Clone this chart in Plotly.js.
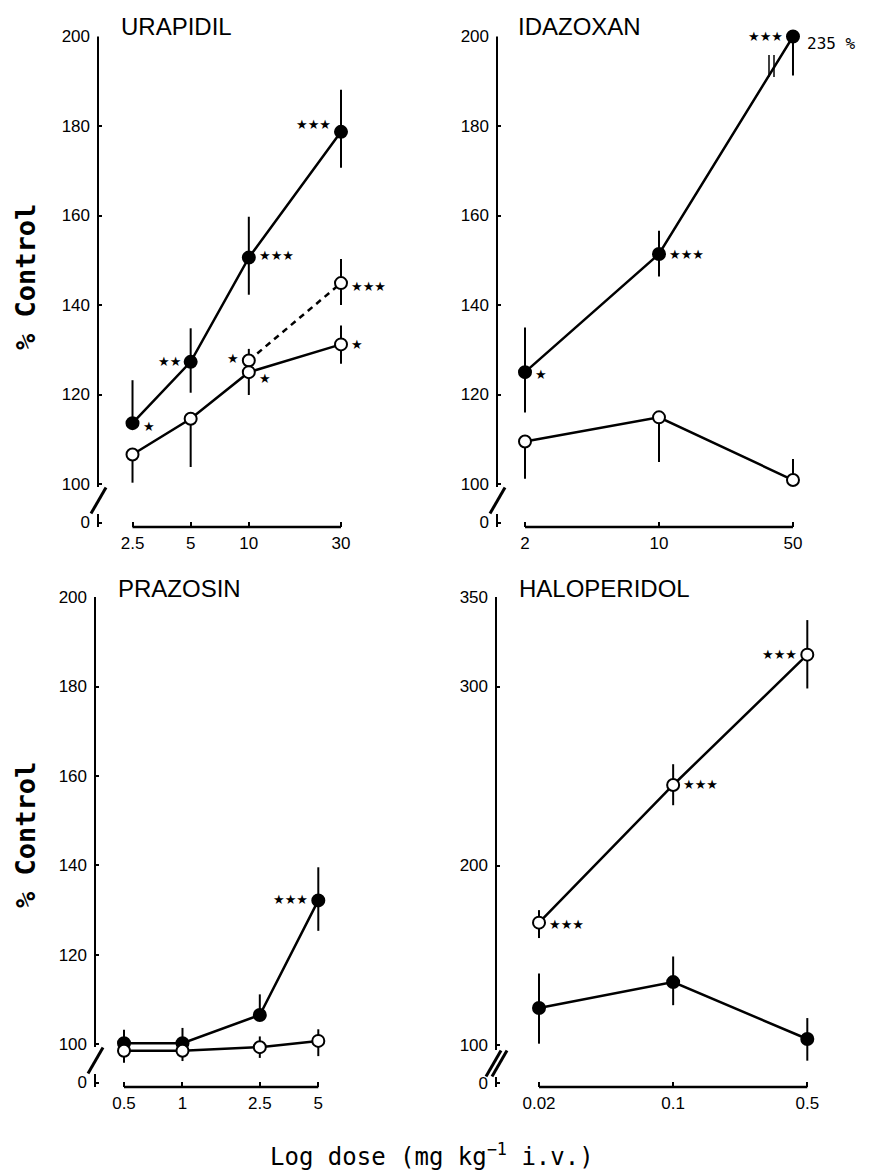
<!DOCTYPE html>
<html><head><meta charset="utf-8">
<script src="https://cdn.plot.ly/plotly-3.0.1.min.js"></script>
<style>html,body{margin:0;padding:0;background:#fff}</style>
</head><body><div id="chart" style="width:871px;height:1171px"></div>
<script>
// ---------------- DATA ----------------
const urapidilDoses = [2.5, 5, 10, 30];
const urapidilDoseLabels = ['2.5', '5', '10', '30'];
const urapidilFilled = [113.6, 127.3, 150.6, 178.7];
const urapidilFilledErrUp = [9.6, 7.5, 9.1, 9.4];
const urapidilFilledErrDown = [0, 6.9, 8.3, 8.0];
const urapidilFilledSig = ['★', '★★', '★★★', '★★★'];
const urapidilOpen = [106.6, 114.6, 125.0, 131.2];
const urapidilOpenErrUp = [0, 0, 0, 4.2];
const urapidilOpenErrDown = [6.3, 10.8, 5.1, 4.3];
const urapidilOpenSig = ['', '', '★', '★'];
const urapidilOpen2Doses = [10, 30];
const urapidilOpen2 = [127.6, 144.9];
const urapidilOpen2ErrUp = [2.6, 5.4];
const urapidilOpen2ErrDown = [0, 4.9];
const urapidilOpen2Sig = ['★', '★★★'];

const idazoxanDoses = [2, 10, 50];
const idazoxanDoseLabels = ['2', '10', '50'];
const idazoxanFilled = [125.0, 151.4, 200];
const idazoxanFilledErrUp = [10, 5.2, 0];
const idazoxanFilledErrDown = [9, 5, 8.7];
const idazoxanFilledSig = ['★', '★★★', '★★★'];
const idazoxanOpen = [109.5, 114.9, 100.9];
const idazoxanOpenErrUp = [0, 0, 4.7];
const idazoxanOpenErrDown = [8.3, 10, 0];
const idazoxanTopLabel = '235 %';

const prazosinDoses = [0.5, 1, 2.5, 5];
const prazosinDoseLabels = ['0.5', '1', '2.5', '5'];
const prazosinFilled = [100.3, 100.3, 106.6, 132.2];
const prazosinFilledErrUp = [3.0, 3.4, 4.6, 7.4];
const prazosinFilledErrDown = [0, 0, 0, 6.8];
const prazosinFilledSig = ['', '', '', '★★★'];
const prazosinOpen = [98.6, 98.6, 99.4, 100.8];
const prazosinOpenErrUp = [0, 0, 2.4, 2.6];
const prazosinOpenErrDown = [2.7, 2.3, 2.4, 3.4];

const haloperidolDoses = [0.02, 0.1, 0.5];
const haloperidolDoseLabels = ['0.02', '0.1', '0.5'];
const haloperidolOpen = [168.1, 245.0, 317.8];
const haloperidolOpenErrUp = [7, 11.6, 19.3];
const haloperidolOpenErrDown = [8.6, 11.3, 18.9];
const haloperidolOpenSig = ['★★★', '★★★', '★★★'];
const haloperidolFilled = [120.4, 134.9, 103.1];
const haloperidolFilledErrUp = [19.3, 14.3, 11.7];
const haloperidolFilledErrDown = [19.9, 12.9, 12.1];

const pctTicks = [100, 120, 140, 160, 180, 200];
const pctTicksHalo = [100, 200, 300, 350];

const panelTitles = ['URAPIDIL', 'IDAZOXAN', 'PRAZOSIN', 'HALOPERIDOL'];
const yTitle = '% Control';
const xTitle = 'Log dose (mg kg<sup>−1</sup> i.v.)';

// ---------------- LAYOUT HELPERS ----------------
const W = 871, H = 1171;
const fx = p => p / W;
const fy = p => 1 - p / H;
const TICKFONT = {family: 'Liberation Sans, Arial, sans-serif', size: 17, color: '#000'};
const STARFONT = {family: 'DejaVu Sans, sans-serif', size: 13, color: '#000'};

function series(xa, ya, x, y, up, down, filled, dash) {
  return {
    type: 'scatter', mode: 'lines+markers', x: x, y: y, xaxis: xa, yaxis: ya,
    cliponaxis: false, hoverinfo: 'skip', showlegend: false,
    line: {color: '#000', width: 2.5, dash: dash || 'solid'},
    marker: {size: 12, color: filled ? '#000' : '#fff', line: {color: '#000', width: 2}},
    error_y: {type: 'data', symmetric: false, array: up, arrayminus: down,
              color: '#000', thickness: 2, width: 0}
  };
}
function xAxis(domPx, range, tickvals, ticktext, anchor) {
  return {type: 'log', domain: [fx(domPx[0]), fx(domPx[1])], range: range, anchor: anchor,
    showline: false, zeroline: false, showgrid: false, ticks: 'inside', ticklen: 5,
    tickwidth: 2, tickcolor: '#000', tickmode: 'array', tickvals: tickvals, ticktext: ticktext,
    tickfont: TICKFONT, ticklabelstandoff: 4, fixedrange: true};
}
function yAxis(domPx, range, tickvals, ticktext, anchor) {
  return {domain: [fy(domPx[1]), fy(domPx[0])], range: range, anchor: anchor,
    showline: false, zeroline: false, showgrid: false, ticks: 'inside', ticklen: 4,
    tickwidth: 2, tickcolor: '#000', tickmode: 'array', tickvals: tickvals, ticktext: ticktext,
    tickfont: TICKFONT, ticklabelstandoff: 7, fixedrange: true};
}
const shapes = [];
function yAxisLine(axX, top, brTop, brBot, bottom, nSlash) {
  shapes.push({type: 'line', xref: 'paper', yref: 'paper', x0: fx(axX), x1: fx(axX), y0: fy(top), y1: fy(brTop), line: {color: '#000', width: 2}});
  shapes.push({type: 'line', xref: 'paper', yref: 'paper', x0: fx(axX), x1: fx(axX), y0: fy(brBot), y1: fy(bottom), line: {color: '#000', width: 2}});
  const cy = (brTop + brBot) / 2;
  for (let i = 0; i < nSlash; i++) {
    const off = nSlash === 1 ? 0 : (i === 0 ? -3 : 3);
    shapes.push({type: 'line', xref: 'paper', yref: 'paper',
      x0: fx(axX - 7 + off), y0: fy(cy + 13), x1: fx(axX + 8 + off), y1: fy(cy - 13),
      line: {color: '#000', width: 3}});
  }
}
function xAxisLine(xa, doses, bottomPx) {
  shapes.push({type: 'line', xref: xa, yref: 'paper', x0: doses[0], x1: doses[doses.length - 1],
    y0: fy(bottomPx), y1: fy(bottomPx), line: {color: '#000', width: 2.5}});
}
const annotations = [];
function stars(xa, ya, doses, vals, sig, sides, dys) {
  sig.forEach((s, i) => {
    if (!s) return;
    const right = sides[i] === 'r';
    annotations.push({xref: xa, yref: ya, x: Math.log10(doses[i]), y: vals[i], text: s,
      showarrow: false, xanchor: right ? 'left' : 'right', yanchor: 'middle',
      xshift: right ? 8 : -8, yshift: dys[i] || 0, font: STARFONT});
  });
}
function label(xp, yp, text, font, opts) {
  annotations.push(Object.assign({xref: 'paper', yref: 'paper', x: fx(xp), y: fy(yp), text: text,
    showarrow: false, xanchor: 'left', yanchor: 'middle', font: font}, opts || {}));
}

// ---------------- PANELS ----------------
const TOP = 36.5, TOPB = 527, BOT = 597, BOTB = 1087;
const layout = {
  width: W, height: H, margin: {l: 0, r: 0, t: 0, b: 0},
  paper_bgcolor: '#fff', plot_bgcolor: 'rgba(0,0,0,0)', showlegend: false,
  xaxis: xAxis([98, 430], [0.2193, 1.9378], urapidilDoses, urapidilDoseLabels, 'y'),
  yaxis: yAxis([TOP, TOPB], [90.4, 200], [91.4].concat(pctTicks), ['0'].concat(pctTicks.map(String)), 'x'),
  xaxis2: xAxis([497, 860], [0.15497, 2.0485], idazoxanDoses, idazoxanDoseLabels, 'y2'),
  yaxis2: yAxis([TOP, TOPB], [90.4, 200], [91.4].concat(pctTicks), ['0'].concat(pctTicks.map(String)), 'x2'),
  xaxis3: xAxis([95, 430], [-0.45028, 1.27385], prazosinDoses, prazosinDoseLabels, 'y3'),
  yaxis3: yAxis([BOT, BOTB], [90.5, 200], [91.5].concat(pctTicks), ['0'].concat(pctTicks.map(String)), 'x3'),
  xaxis4: xAxis([496, 860], [-1.92305, -0.02641], haloperidolDoses, haloperidolDoseLabels, 'y4'),
  yaxis4: yAxis([BOT, BOTB], [76.3, 350], [78.6].concat(pctTicksHalo), ['0'].concat(pctTicksHalo.map(String)), 'x4'),
  shapes: shapes, annotations: annotations
};

const data = [
  series('x', 'y', urapidilDoses, urapidilFilled, urapidilFilledErrUp, urapidilFilledErrDown, true),
  series('x', 'y', urapidilOpen2Doses, urapidilOpen2, urapidilOpen2ErrUp, urapidilOpen2ErrDown, false, '6px,5px'),
  series('x', 'y', urapidilDoses, urapidilOpen, urapidilOpenErrUp, urapidilOpenErrDown, false),
  series('x2', 'y2', idazoxanDoses, idazoxanFilled, idazoxanFilledErrUp, idazoxanFilledErrDown, true),
  series('x2', 'y2', idazoxanDoses, idazoxanOpen, idazoxanOpenErrUp, idazoxanOpenErrDown, false),
  series('x3', 'y3', prazosinDoses, prazosinFilled, prazosinFilledErrUp, prazosinFilledErrDown, true),
  series('x3', 'y3', prazosinDoses, prazosinOpen, prazosinOpenErrUp, prazosinOpenErrDown, false),
  series('x4', 'y4', haloperidolDoses, haloperidolFilled, haloperidolFilledErrUp, haloperidolFilledErrDown, true),
  series('x4', 'y4', haloperidolDoses, haloperidolOpen, haloperidolOpenErrUp, haloperidolOpenErrDown, false)
];

// axis lines and breaks
yAxisLine(98, TOP, 487, 514, TOPB, 1);
yAxisLine(497, TOP, 487, 514, TOPB, 1);
yAxisLine(95, BOT, 1047, 1074, BOTB, 1);
yAxisLine(496, BOT, 1050, 1077, BOTB, 2);
xAxisLine('x', urapidilDoses, TOPB);
xAxisLine('x2', idazoxanDoses, TOPB);
xAxisLine('x3', prazosinDoses, BOTB);
xAxisLine('x4', haloperidolDoses, BOTB);
// break marks on idazoxan top line
shapes.push({type: 'line', xref: 'paper', yref: 'paper', x0: fx(769), x1: fx(769), y0: fy(55), y1: fy(77), line: {color: '#000', width: 1.5}});
shapes.push({type: 'line', xref: 'paper', yref: 'paper', x0: fx(774), x1: fx(774), y0: fy(55), y1: fy(77), line: {color: '#000', width: 1.5}});

// significance stars
stars('x', 'y', urapidilDoses, urapidilFilled, urapidilFilledSig, ['r', 'l', 'r', 'l'], [-3, 0, 2, 7]);
stars('x', 'y', urapidilDoses, urapidilOpen, urapidilOpenSig, ['r', 'r', 'r', 'r'], [0, 0, -6, 0]);
stars('x', 'y', urapidilOpen2Doses, urapidilOpen2, urapidilOpen2Sig, ['l', 'r'], [2, -3]);
stars('x2', 'y2', idazoxanDoses, idazoxanFilled, idazoxanFilledSig, ['r', 'r', 'l'], [-2, 0, 0]);
stars('x3', 'y3', prazosinDoses, prazosinFilled, prazosinFilledSig, ['r', 'r', 'r', 'l'], [0, 0, 0, 1]);
stars('x4', 'y4', haloperidolDoses, haloperidolOpen, haloperidolOpenSig, ['r', 'r', 'l'], [-2, 0, 0]);
annotations.push({xref: 'x2', yref: 'y2', x: Math.log10(idazoxanDoses[2]), y: idazoxanFilled[2], text: idazoxanTopLabel,
  showarrow: false, xanchor: 'left', yanchor: 'middle', xshift: 12, yshift: -7,
  font: {family: 'DejaVu Sans Mono, monospace', size: 16, color: '#000'}});

// titles
const TITLEFONT = {family: 'Liberation Sans, Arial, sans-serif', size: 24, color: '#000'};
label(119, 26, panelTitles[0], TITLEFONT);
label(516, 26, panelTitles[1], TITLEFONT);
label(116, 588, panelTitles[2], TITLEFONT);
label(517, 588, panelTitles[3], TITLEFONT);
const YTFONT = {family: 'DejaVu Sans Mono, monospace', size: 27, color: '#000', weight: 'bold'};
label(25, 277, yTitle, YTFONT, {textangle: -90, xanchor: 'center'});
label(25, 835, yTitle, YTFONT, {textangle: -90, xanchor: 'center'});
label(432, 1155, xTitle, {family: 'DejaVu Sans Mono, monospace', size: 24, color: '#000'}, {xanchor: 'center'});

Plotly.newPlot('chart', data, layout, {staticPlot: true, displayModeBar: false});
</script>
</body></html>
